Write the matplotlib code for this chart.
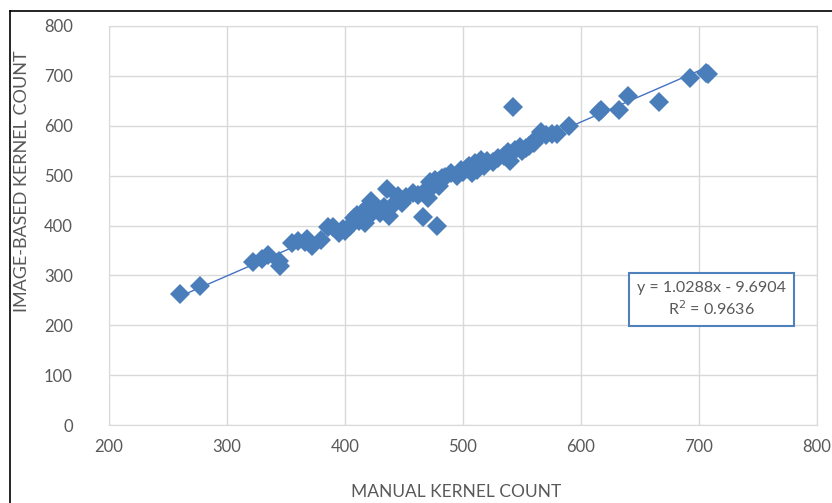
import numpy as np
import matplotlib.pyplot as plt
from matplotlib.lines import Line2D

manual = [260, 277, 322, 330, 335, 345, 344, 355, 360, 366, 368, 372, 380, 386, 390,
          395, 398, 400, 404, 408, 410, 412, 414, 417, 419, 420, 422, 424, 426, 430,
          433, 436, 437, 440, 445, 448, 452, 458, 462, 466, 470, 470, 472, 474, 476,
          478, 480, 480, 482, 485, 490, 495, 498, 500, 503, 505, 508, 510, 512, 515,
          518, 520, 525, 530, 535, 538, 540, 542, 544, 548, 550, 553, 556, 560, 563,
          566, 570, 575, 580, 590, 615, 617, 632, 640, 666, 692, 706, 708]
image = [263, 278, 327, 333, 340, 318, 328, 365, 368, 367, 372, 358, 370, 396, 397,
         384, 392, 388, 398, 415, 422, 410, 426, 406, 432, 440, 450, 428, 438, 425,
         437, 474, 420, 440, 460, 445, 458, 465, 462, 418, 455, 475, 488, 478, 492,
         400, 490, 480, 495, 498, 505, 500, 512, 508, 515, 520, 505, 525, 512, 532,
         520, 530, 528, 535, 540, 548, 530, 638, 552, 558, 550, 555, 560, 565, 575,
         588, 582, 583, 583, 600, 628, 632, 632, 660, 647, 696, 706, 703]

slope = 1.0288
intercept = -9.6904
eq_text = "y = 1.0288x - 9.6904\nR$^2$ = 0.9636"

xticks = [200, 300, 400, 500, 600, 700, 800]
yticks = [0, 100, 200, 300, 400, 500, 600, 700, 800]

plt.rcParams['font.family'] = ['Lato', 'DejaVu Sans']
gray = '#595959'
grid = '#d9d9d9'
blue = '#4a7ebb'

fig = plt.figure(figsize=(8.32, 5.03), dpi=100)
ax = fig.add_axes([109/832, 78/503, 708/832, 399/503])

xs = np.array(manual)
fx = np.array([xs.min(), xs.max()])
ax.plot(fx, slope*fx + intercept, color='#4472c4', linewidth=1.0, zorder=2)
ax.plot(manual, image, 'D', color=blue, markersize=10, markeredgewidth=0, zorder=3)

ax.set_xlim(200, 800)
ax.set_ylim(0, 800)
ax.set_xticks(xticks)
ax.set_yticks(yticks)
ax.grid(color=grid, linewidth=1)
ax.set_axisbelow(True)
for s in ax.spines.values():
    s.set_color(grid)
ax.tick_params(length=0, labelsize=12, colors=gray, pad=10)
ax.tick_params(axis='y', pad=26)
for lab in ax.get_yticklabels():
    lab.set_horizontalalignment('right')
ax.set_xlabel('MANUAL KERNEL COUNT', fontsize=12.5, color=gray)
ax.xaxis.set_label_coords(0.49, -0.148)
ax.set_ylabel('IMAGE-BASED KERNEL COUNT', fontsize=13, color=gray)
ax.yaxis.set_label_coords(-0.112, 0.612)

ax.text(0.851, 0.3145, eq_text, transform=ax.transAxes, ha='center', va='center',
        fontsize=11.5, color=gray, linespacing=1.25,
        bbox=dict(boxstyle='square,pad=0.5', facecolor='white', edgecolor='#4f81bd', linewidth=1.5))

# outer frame of the screenshot (left and top edges)
fig.add_artist(Line2D([9.5/832, 9.5/832], [0, 1 - 11/503], transform=fig.transFigure, color='black', linewidth=1.2))
fig.add_artist(Line2D([9.5/832, 1], [1 - 11/503, 1 - 11/503], transform=fig.transFigure, color='black', linewidth=1.2))

fig.savefig('out.png', dpi=100)
